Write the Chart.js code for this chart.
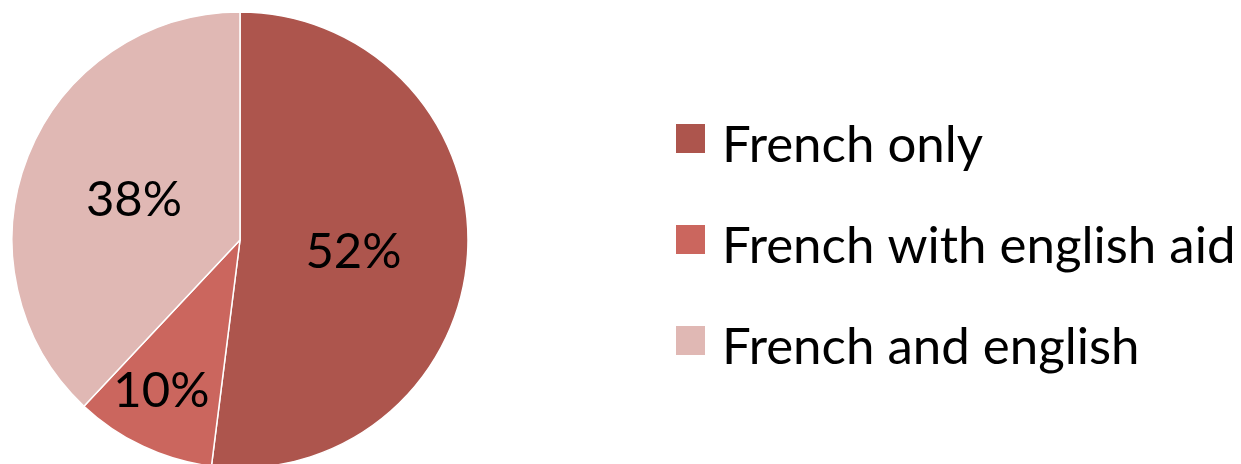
<!DOCTYPE html>
<html>
<head>
<meta charset="utf-8">
<script src="https://cdn.jsdelivr.net/npm/chart.js@4"></script>
<style>
  html, body { margin: 0; padding: 0; background: #fff; }
  #wrap { width: 1241px; height: 464px; }
</style>
</head>
<body>
<div id="wrap"><canvas id="pieChart"></canvas></div>
<script>
// data
const categories = ["French only", "French with english aid", "French and english"];
const shares = [52, 10, 38];
const sliceColors = ["#AD554D", "#CB665E", "#E0B8B4"];

const FONT = "Lato, 'Open Sans', sans-serif";

// percent labels inside the slices
const sliceLabels = {
  id: "sliceLabels",
  afterDatasetsDraw(chart, args, opts) {
    const ctx = chart.ctx;
    const total = chart.data.datasets[0].data.reduce((a, b) => a + b, 0);
    const meta = chart.getDatasetMeta(0);
    ctx.save();
    ctx.fillStyle = "#000";
    ctx.font = opts.size + "px " + FONT;
    ctx.textAlign = "center";
    ctx.textBaseline = "alphabetic";
    meta.data.forEach((arc, i) => {
      const p = arc.getProps(["x", "y", "startAngle", "endAngle", "outerRadius"], true);
      const mid = (p.startAngle + p.endAngle) / 2 + opts.shift[i];
      const r = p.outerRadius * opts.factors[i];
      const x = p.x + Math.cos(mid) * r;
      const y = p.y + Math.sin(mid) * r;
      const pct = Math.round(chart.data.datasets[0].data[i] / total * 100) + "%";
      ctx.fillText(pct, x, y + opts.size * 0.36);
    });
    ctx.restore();
  },
};

// legend on the right, drawn from the chart data
const sideLegend = {
  id: "sideLegend",
  afterDraw(chart, args, opts) {
    const ctx = chart.ctx;
    const ds = chart.data.datasets[0];
    ctx.save();
    ctx.font = opts.size + "px " + FONT;
    ctx.textAlign = "left";
    ctx.textBaseline = "alphabetic";
    chart.data.labels.forEach((label, i) => {
      const cy = opts.top + i * opts.step;
      ctx.fillStyle = ds.backgroundColor[i];
      ctx.fillRect(opts.left, cy - opts.box / 2, opts.box, opts.box);
      ctx.fillStyle = "#000";
      ctx.fillText(label, opts.left + opts.box + opts.gap, cy + opts.size * 0.46);
    });
    ctx.restore();
  },
};

new Chart(document.getElementById("pieChart"), {
  type: "pie",
  data: {
    labels: categories,
    datasets: [
      {
        data: shares,
        backgroundColor: sliceColors,
        borderColor: "#ffffff",
        borderWidth: 1.5,
        radius: 228,
      },
    ],
  },
  options: {
    responsive: true,
    maintainAspectRatio: false,
    animation: false,
    layout: { padding: { left: 0, right: 761, top: 16, bottom: 0 } },
    plugins: {
      legend: { display: false },
      tooltip: { enabled: false },
      sliceLabels: { size: 49, factors: [0.5, 0.74, 0.5], shift: [0.03, 0.045, 0] },
      sideLegend: { left: 676, top: 138.5, step: 101, box: 29, gap: 17, size: 51 },
    },
  },
  plugins: [sliceLabels, sideLegend],
});
</script>
</body>
</html>
